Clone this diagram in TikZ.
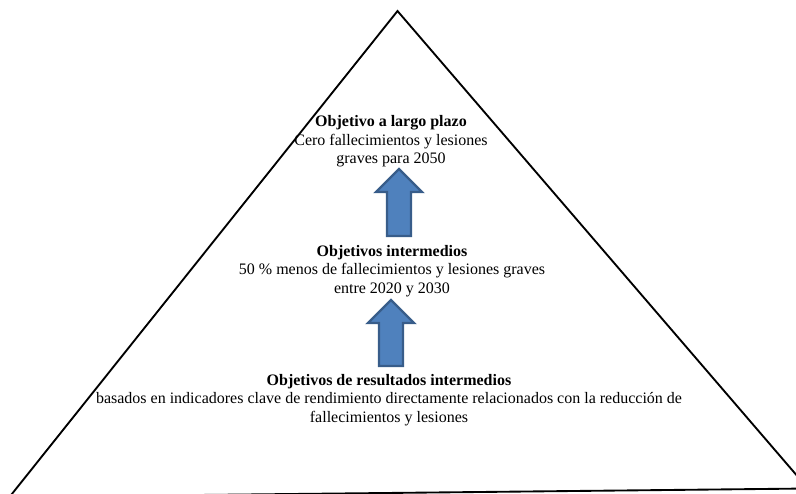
\documentclass[tikz,border=0pt]{standalone}
\usepackage{fontspec}
\setmainfont{Liberation Serif}
\usepackage{tikz}
\usetikzlibrary{positioning}
\definecolor{arrowfill}{RGB}{79,129,189}
\definecolor{arrowline}{RGB}{56,93,138}
% block arrow pointing up: centre x, tip y, head base y, foot y
\newcommand{\goalup}[4]{%
  \draw[goalarrow] (#1,#2) -- (#1+23,#3) -- (#1+12,#3) -- (#1+12,#4)
    -- (#1-12,#4) -- (#1-12,#3) -- (#1-23,#3) -- cycle;}

\begin{document}
\begin{tikzpicture}[x=0.75pt, y=-0.75pt,
  goaltext/.style={align=center, inner sep=0pt, font=\fontsize{12}{13.9}\selectfont},
  goalarrow/.style={fill=arrowfill, draw=arrowline, line width=1.8pt, line join=miter}]

\useasboundingbox (0,0) rectangle (796,493);

% pyramid outline
\begin{scope}
  \clip (0,0) rectangle (796,493);
  \draw[line width=1.4pt, line join=miter] (9.5,497) -- (397.5,11) -- (808,488.5) -- cycle;
\end{scope}

% levels
\node[goaltext] (longterm) at (391,141.5)
  {\textbf{Objetivo a largo plazo}\\Cero fallecimientos y lesiones\\graves para 2050};
\node[goaltext] (interm) at (392,271)
  {\textbf{Objetivos intermedios}\\50 \% menos de fallecimientos y lesiones graves\\entre 2020 y 2030};
\node[goaltext] (results) at (389,400)
  {\textbf{Objetivos de resultados intermedios}\\basados en indicadores clave de rendimiento directamente relacionados con la reducción de\\fallecimientos y lesiones};

% arrows between levels
\goalup{399}{169}{192}{236}
\goalup{391}{300}{323}{366}

\end{tikzpicture}
\end{document}
